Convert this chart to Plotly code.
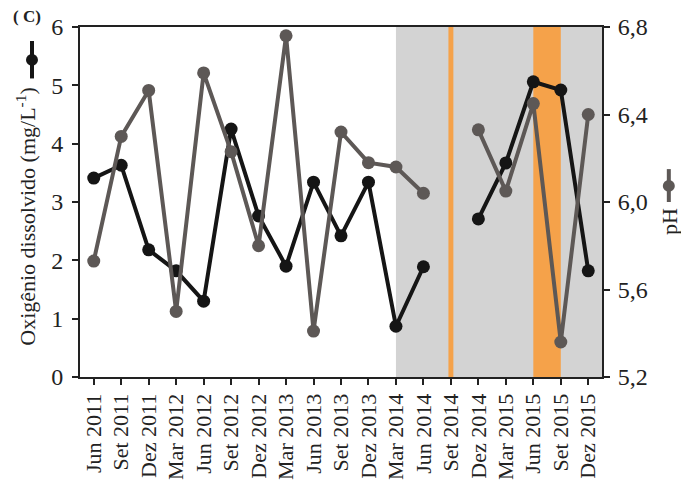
import plotly.graph_objects as go

months = ["Jun 2011", "Set 2011", "Dez 2011", "Mar 2012", "Jun 2012", "Set 2012", "Dez 2012",
          "Mar 2013", "Jun 2013", "Set 2013", "Dez 2013", "Mar 2014", "Jun 2014", "Set 2014",
          "Dez 2014", "Mar 2015", "Jun 2015", "Set 2015", "Dez 2015"]
oxigenio = [3.41, 3.63, 2.18, 1.82, 1.30, 4.25, 2.76, 1.90, 3.34, 2.42, 3.34, 0.87, 1.89, None,
            2.71, 3.67, 5.06, 4.92, 1.82]
ph = [5.73, 6.30, 6.51, 5.50, 6.59, 6.23, 5.80, 6.76, 5.41, 6.32, 6.18, 6.16, 6.04, None,
      6.33, 6.05, 6.45, 5.36, 6.40]

x_idx = list(range(len(months)))
BLACK = "#151515"
GRAY = "#5d5856"
FONT = "Times New Roman, Liberation Serif, serif"

fig = go.Figure()
fig.add_trace(go.Scatter(x=x_idx, y=oxigenio, mode="lines+markers", yaxis="y",
                         line=dict(color=BLACK, width=4), marker=dict(color=BLACK, size=13),
                         connectgaps=False, showlegend=False))
fig.add_trace(go.Scatter(x=x_idx, y=ph, mode="lines+markers", yaxis="y2",
                         line=dict(color=GRAY, width=4), marker=dict(color=GRAY, size=13),
                         connectgaps=False, showlegend=False))

shapes = [
    dict(type="rect", xref="x", yref="paper", x0=11, x1=18.5, y0=0, y1=1,
         fillcolor="#d3d3d3", line=dict(width=0), layer="below"),
    dict(type="rect", xref="x", yref="paper", x0=12.91, x1=13.09, y0=0, y1=1,
         fillcolor="#f5a24a", line=dict(width=0), layer="below"),
    dict(type="rect", xref="x", yref="paper", x0=16, x1=17, y0=0, y1=1,
         fillcolor="#f5a24a", line=dict(width=0), layer="below"),
    # legend glyphs next to axis titles
    dict(type="line", xref="paper", yref="paper", x0=-0.092, x1=-0.092, y0=0.853, y1=0.96,
         line=dict(color=BLACK, width=4)),
    dict(type="circle", xref="paper", yref="paper", x0=-0.092 - 0.0115, x1=-0.092 + 0.0115,
         y0=0.906 - 0.017, y1=0.906 + 0.017, fillcolor=BLACK, line=dict(width=0)),
    dict(type="line", xref="paper", yref="paper", x0=1.128, x1=1.128, y0=0.5, y1=0.594,
         line=dict(color=GRAY, width=4)),
    dict(type="circle", xref="paper", yref="paper", x0=1.128 - 0.0115, x1=1.128 + 0.0115,
         y0=0.546 - 0.017, y1=0.546 + 0.017, fillcolor=GRAY, line=dict(width=0)),
]

fig.update_layout(
    width=681, height=481,
    margin=dict(l=80, r=79, t=27, b=104, autoexpand=False),
    paper_bgcolor="white", plot_bgcolor="white",
    font=dict(family=FONT, size=22, color="#222"),
    shapes=shapes,
    xaxis=dict(range=[-0.5, 18.5], tickmode="array", tickvals=x_idx, ticktext=months,
               tickangle=-90, ticks="outside", ticklen=6, tickwidth=2, tickcolor="#222",
               showline=True, linecolor="#222", linewidth=2, mirror=True, showgrid=False,
               zeroline=False, automargin=False, tickfont=dict(family=FONT, size=22)),
    yaxis=dict(range=[0, 6], tickvals=[0, 1, 2, 3, 4, 5, 6], ticks="outside", ticklen=6,
               tickwidth=2, tickcolor="#222", showline=True, linecolor="#222", linewidth=2,
               showgrid=False, zeroline=False, automargin=False, ticklabelstandoff=4,
               tickfont=dict(family=FONT, size=24)),
    yaxis2=dict(range=[5.2, 6.8], tickvals=[5.2, 5.6, 6.0, 6.4, 6.8],
                ticktext=["5,2", "5,6", "6,0", "6,4", "6,8"], overlaying="y", side="right",
                ticks="outside", ticklen=6, tickwidth=2, tickcolor="#222", showline=True,
                linecolor="#222", linewidth=2, showgrid=False, zeroline=False, automargin=False,
                ticklabelstandoff=3, tickfont=dict(family=FONT, size=24)),
    annotations=[
        dict(text="Oxigênio dissolvido (mg/L<sup>-1</sup>)", xref="paper", yref="paper",
             x=-0.104, y=0.457, textangle=-90, showarrow=False, font=dict(family=FONT, size=22),
             xanchor="center", yanchor="middle"),
        dict(text="pH", xref="paper", yref="paper", x=1.128, y=0.445, textangle=-90,
             showarrow=False, font=dict(family=FONT, size=22), xanchor="center", yanchor="middle"),
        dict(text="<b>( C)</b>", xref="paper", yref="paper", x=-0.132, y=1.029, showarrow=False,
             font=dict(family=FONT, size=17), xanchor="left", yanchor="middle"),
    ],
)

fig.write_html("out.html", config={"displayModeBar": False},
               post_script="document.body.style.margin='0';")
